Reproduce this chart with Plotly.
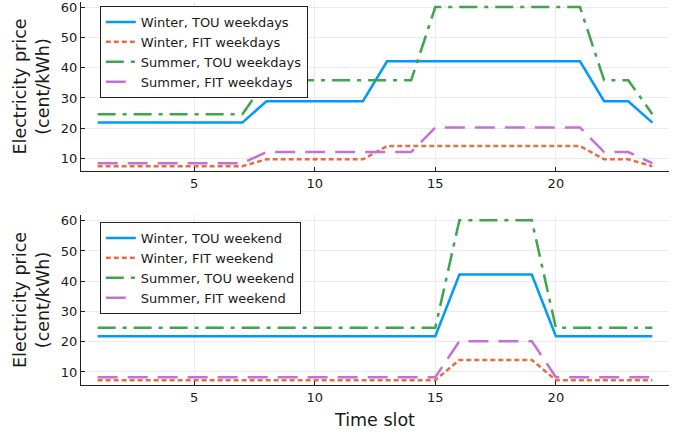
import plotly.graph_objects as go
from plotly.subplots import make_subplots

slots = list(range(1, 25))

# Weekdays
winter_tou_wd = [21.8]*7 + [28.9]*5 + [42.2]*9 + [28.9]*2 + [21.8]
winter_fit_wd = [7.3]*7 + [9.6]*5 + [14.0]*9 + [9.6]*2 + [7.3]
summer_tou_wd = [24.6]*7 + [35.9]*7 + [60.2]*7 + [35.9]*2 + [24.6]
summer_fit_wd = [8.3]*7 + [12.0]*7 + [20.2]*7 + [12.0]*2 + [8.3]

# Weekend
winter_tou_we = [21.8]*15 + [42.2]*4 + [21.8]*5
winter_fit_we = [7.3]*15 + [14.0]*4 + [7.3]*5
summer_tou_we = [24.6]*15 + [60.2]*4 + [24.6]*5
summer_fit_we = [8.3]*15 + [20.2]*4 + [8.3]*5

names_wd = ["Winter, TOU weekdays", "Winter, FIT weekdays", "Summer, TOU weekdays", "Summer, FIT weekdays"]
names_we = ["Winter, TOU weekend", "Winter, FIT weekend", "Summer, TOU weekend", "Summer, FIT weekend"]

colors = ["#009AFA", "#E36F47", "#3EA44E", "#C371D2"]
dashes = ["solid", "5px,3px", "18px,7px,4px,7px", "20px,10px"]

FONT = "DejaVu Sans"
TXT = "#1a1a1a"

fig = make_subplots(rows=2, cols=1, vertical_spacing=0.0)

for ys, nm, c, d in zip([winter_tou_wd, winter_fit_wd, summer_tou_wd, summer_fit_wd], names_wd, colors, dashes):
    fig.add_trace(go.Scatter(x=slots, y=ys, name=nm, mode="lines",
                             line=dict(color=c, width=2.5, dash=d), legend="legend"), row=1, col=1)
for ys, nm, c, d in zip([winter_tou_we, winter_fit_we, summer_tou_we, summer_fit_we], names_we, colors, dashes):
    fig.add_trace(go.Scatter(x=slots, y=ys, name=nm, mode="lines",
                             line=dict(color=c, width=2.5, dash=d), legend="legend2"), row=2, col=1)

axis_common = dict(
    showline=True, linecolor="#222222", linewidth=1, mirror=False,
    showgrid=True, gridcolor="#ebebeb", gridwidth=1,
    ticks="inside", ticklen=4, tickcolor="#222222",
    tickfont=dict(family=FONT, size=13, color=TXT),
    zeroline=False, automargin=False,
)

fig.update_xaxes(**axis_common, range=[0.31, 24.69], tickvals=[5, 10, 15, 20])
fig.update_yaxes(**axis_common, range=[5.7, 61.9], tickvals=[10, 20, 30, 40, 50, 60])

ytitle = dict(text="Electricity price<br>(cent/kWh)", font=dict(family=FONT, size=17.5, color=TXT), standoff=6)
fig.update_yaxes(title=ytitle, row=1, col=1)
fig.update_yaxes(title=ytitle, row=2, col=1)
fig.update_xaxes(title=dict(text="Time slot", font=dict(family=FONT, size=17.5, color=TXT), standoff=10), row=2, col=1)

legend_common = dict(xanchor="left", yanchor="top",
                     bordercolor="#222222", borderwidth=1, bgcolor="white",
                     font=dict(family=FONT, size=13, color=TXT),
                     tracegroupgap=0, itemwidth=30)

fig.update_layout(
    width=685, height=434,
    margin=dict(l=81, r=16, t=2, b=49, autoexpand=False),
    paper_bgcolor="white", plot_bgcolor="white",
    font=dict(family=FONT, color=TXT),
    yaxis=dict(domain=[0.5587, 1.0]),
    yaxis2=dict(domain=[0.0, 0.4439]),
    legend=dict(x=0.032, y=0.9896, **legend_common),
    legend2=dict(x=0.032, y=0.4256, **legend_common),
    showlegend=True,
)

fig.write_html("out.html")
